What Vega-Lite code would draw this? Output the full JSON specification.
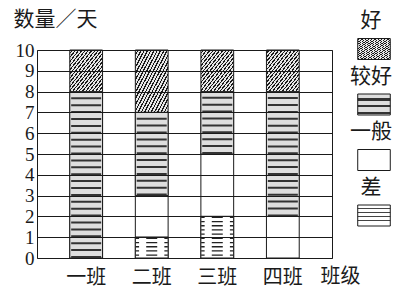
{
  "$schema": "https://vega.github.io/schema/vega-lite/v6.json",
  "width": 295,
  "height": 208,
  "autosize": {"type": "none"},
  "padding": {"left": 37, "top": 50, "right": 75, "bottom": 30},
  "background": "white",
  "config": {"view": {"stroke": "#1a1a1a", "strokeWidth": 1}},
  "params": [
    {"name": "hatch", "value": {"gradient": "linear", "x1": 0, "y1": 0, "x2": 1, "y2": 1, "stops": [
      {"offset": 0, "color": "#e6e6e6"}, {"offset": 0.03, "color": "#e6e6e6"}, {"offset": 0.03, "color": "#1a1a1a"}, {"offset": 0.05, "color": "#1a1a1a"},
      {"offset": 0.05, "color": "#e6e6e6"}, {"offset": 0.08, "color": "#e6e6e6"}, {"offset": 0.08, "color": "#1a1a1a"}, {"offset": 0.1, "color": "#1a1a1a"},
      {"offset": 0.1, "color": "#e6e6e6"}, {"offset": 0.13, "color": "#e6e6e6"}, {"offset": 0.13, "color": "#1a1a1a"}, {"offset": 0.15, "color": "#1a1a1a"},
      {"offset": 0.15, "color": "#e6e6e6"}, {"offset": 0.18, "color": "#e6e6e6"}, {"offset": 0.18, "color": "#1a1a1a"}, {"offset": 0.2, "color": "#1a1a1a"},
      {"offset": 0.2, "color": "#e6e6e6"}, {"offset": 0.23, "color": "#e6e6e6"}, {"offset": 0.23, "color": "#1a1a1a"}, {"offset": 0.25, "color": "#1a1a1a"},
      {"offset": 0.25, "color": "#e6e6e6"}, {"offset": 0.28, "color": "#e6e6e6"}, {"offset": 0.28, "color": "#1a1a1a"}, {"offset": 0.3, "color": "#1a1a1a"},
      {"offset": 0.3, "color": "#e6e6e6"}, {"offset": 0.33, "color": "#e6e6e6"}, {"offset": 0.33, "color": "#1a1a1a"}, {"offset": 0.35, "color": "#1a1a1a"},
      {"offset": 0.35, "color": "#e6e6e6"}, {"offset": 0.38, "color": "#e6e6e6"}, {"offset": 0.38, "color": "#1a1a1a"}, {"offset": 0.4, "color": "#1a1a1a"},
      {"offset": 0.4, "color": "#e6e6e6"}, {"offset": 0.43, "color": "#e6e6e6"}, {"offset": 0.43, "color": "#1a1a1a"}, {"offset": 0.45, "color": "#1a1a1a"},
      {"offset": 0.45, "color": "#e6e6e6"}, {"offset": 0.48, "color": "#e6e6e6"}, {"offset": 0.48, "color": "#1a1a1a"}, {"offset": 0.5, "color": "#1a1a1a"},
      {"offset": 0.5, "color": "#e6e6e6"}, {"offset": 0.53, "color": "#e6e6e6"}, {"offset": 0.53, "color": "#1a1a1a"}, {"offset": 0.55, "color": "#1a1a1a"},
      {"offset": 0.55, "color": "#e6e6e6"}, {"offset": 0.58, "color": "#e6e6e6"}, {"offset": 0.58, "color": "#1a1a1a"}, {"offset": 0.6, "color": "#1a1a1a"},
      {"offset": 0.6, "color": "#e6e6e6"}, {"offset": 0.63, "color": "#e6e6e6"}, {"offset": 0.63, "color": "#1a1a1a"}, {"offset": 0.65, "color": "#1a1a1a"},
      {"offset": 0.65, "color": "#e6e6e6"}, {"offset": 0.68, "color": "#e6e6e6"}, {"offset": 0.68, "color": "#1a1a1a"}, {"offset": 0.7, "color": "#1a1a1a"},
      {"offset": 0.7, "color": "#e6e6e6"}, {"offset": 0.73, "color": "#e6e6e6"}, {"offset": 0.73, "color": "#1a1a1a"}, {"offset": 0.75, "color": "#1a1a1a"},
      {"offset": 0.75, "color": "#e6e6e6"}, {"offset": 0.78, "color": "#e6e6e6"}, {"offset": 0.78, "color": "#1a1a1a"}, {"offset": 0.8, "color": "#1a1a1a"},
      {"offset": 0.8, "color": "#e6e6e6"}, {"offset": 0.83, "color": "#e6e6e6"}, {"offset": 0.83, "color": "#1a1a1a"}, {"offset": 0.85, "color": "#1a1a1a"},
      {"offset": 0.85, "color": "#e6e6e6"}, {"offset": 0.88, "color": "#e6e6e6"}, {"offset": 0.88, "color": "#1a1a1a"}, {"offset": 0.9, "color": "#1a1a1a"},
      {"offset": 0.9, "color": "#e6e6e6"}, {"offset": 0.93, "color": "#e6e6e6"}, {"offset": 0.93, "color": "#1a1a1a"}, {"offset": 0.95, "color": "#1a1a1a"},
      {"offset": 0.95, "color": "#e6e6e6"}, {"offset": 0.98, "color": "#e6e6e6"}, {"offset": 0.98, "color": "#1a1a1a"}, {"offset": 1, "color": "#1a1a1a"}
    ]}},
    {"name": "zigL", "value": {"gradient": "linear", "x1": 0, "y1": 0, "x2": 0, "y2": 1, "stops": [
      {"offset": 0, "color": "#dedede"}, {"offset": 0.18, "color": "#dedede"}, {"offset": 0.18, "color": "#333333"}, {"offset": 0.31, "color": "#333333"},
      {"offset": 0.31, "color": "#dedede"}, {"offset": 0.51, "color": "#dedede"}, {"offset": 0.51, "color": "#333333"}, {"offset": 0.64, "color": "#333333"},
      {"offset": 0.64, "color": "#dedede"}, {"offset": 0.84, "color": "#dedede"}, {"offset": 0.84, "color": "#333333"}, {"offset": 0.97, "color": "#333333"},
      {"offset": 0.97, "color": "#dedede"}, {"offset": 1, "color": "#dedede"}
    ]}},
    {"name": "dashL", "value": {"gradient": "linear", "x1": 0, "y1": 0, "x2": 0, "y2": 1, "stops": [
      {"offset": 0, "color": "#ffffff"}, {"offset": 0.12, "color": "#ffffff"}, {"offset": 0.12, "color": "#444444"}, {"offset": 0.18, "color": "#444444"},
      {"offset": 0.18, "color": "#ffffff"}, {"offset": 0.32, "color": "#ffffff"}, {"offset": 0.32, "color": "#444444"}, {"offset": 0.38, "color": "#444444"},
      {"offset": 0.38, "color": "#ffffff"}, {"offset": 0.52, "color": "#ffffff"}, {"offset": 0.52, "color": "#444444"}, {"offset": 0.58, "color": "#444444"},
      {"offset": 0.58, "color": "#ffffff"}, {"offset": 0.72, "color": "#ffffff"}, {"offset": 0.72, "color": "#444444"}, {"offset": 0.78, "color": "#444444"},
      {"offset": 0.78, "color": "#ffffff"}, {"offset": 1, "color": "#ffffff"}
    ]}}
  ],
  "data": {
    "values": [
      {"cls": "一班", "level": "较好", "days": 8},
      {"cls": "一班", "level": "好", "days": 2},
      {"cls": "二班", "level": "差", "days": 1},
      {"cls": "二班", "level": "一般", "days": 2},
      {"cls": "二班", "level": "较好", "days": 4},
      {"cls": "二班", "level": "好", "days": 3},
      {"cls": "三班", "level": "差", "days": 2},
      {"cls": "三班", "level": "一般", "days": 3},
      {"cls": "三班", "level": "较好", "days": 3},
      {"cls": "三班", "level": "好", "days": 2},
      {"cls": "四班", "level": "一般", "days": 2},
      {"cls": "四班", "level": "较好", "days": 6},
      {"cls": "四班", "level": "好", "days": 2}
    ]
  },
  "transform": [
    {"calculate": "indexof(['差','一般','较好','好'], datum.level)", "as": "ord"},
    {"stack": "days", "groupby": ["cls"], "sort": [{"field": "ord", "order": "ascending"}], "as": ["lo", "hi"]}
  ],
  "encoding": {
    "x": {
      "field": "cls", "type": "nominal",
      "scale": {"type": "band", "domain": ["一班", "二班", "三班", "四班"], "paddingInner": 0.5, "paddingOuter": 0.5},
      "axis": {
        "title": "班级", "titleX": 303, "titleY": 18, "titleAlign": "center", "titleBaseline": "middle",
        "titleFont": "Noto Sans CJK SC", "titleFontSize": 20, "titleFontWeight": "normal", "titleColor": "#1a1a1a",
        "labelFont": "Noto Sans CJK SC", "labelFontSize": 20, "labelColor": "#1a1a1a", "labelAngle": 0,
        "labelPadding": 9, "labelBaseline": "top", "ticks": false, "domain": false, "grid": false
      }
    },
    "y": {
      "field": "lo", "type": "quantitative",
      "scale": {"domain": [0, 10], "nice": false},
      "axis": {
        "title": "数量／天", "titleAngle": 0, "titleX": -24, "titleY": -31, "titleAlign": "left", "titleBaseline": "middle",
        "titleFont": "Noto Sans CJK SC", "titleFontSize": 21, "titleFontWeight": "normal", "titleColor": "#1a1a1a",
        "values": [0, 1, 2, 3, 4, 5, 6, 7, 8, 9, 10],
        "labelFont": "Liberation Serif", "labelFontSize": 19, "labelColor": "#1a1a1a", "labelPadding": 3,
        "labelOverlap": false, "labelFlush": false,
        "ticks": false, "domain": false, "grid": true, "gridColor": "#1a1a1a", "gridWidth": 1, "gridOpacity": 1,
        "zindex": 1
      }
    },
    "y2": {"field": "hi"}
  },
  "layer": [
    {
      "mark": {"type": "bar", "stroke": "#1a1a1a", "strokeWidth": 1},
      "encoding": {
        "fill": {
          "field": "level", "type": "nominal",
          "scale": {"domain": ["好", "较好", "一般", "差"], "range": [{"expr": "hatch"}, {"expr": "zigL"}, "#ffffff", {"expr": "dashL"}]},
          "legend": {
            "orient": "none", "legendX": 326, "legendY": -12, "title": null, "padding": 0,
            "symbolType": "M-1.55,-1L1.55,-1L1.55,1L-1.55,1Z", "symbolSize": 441,
            "symbolStrokeColor": "#1a1a1a", "symbolStrokeWidth": 1, "symbolOpacity": 1,
            "labelFont": "Noto Sans CJK SC", "labelFontSize": 21, "labelColor": "#1a1a1a",
            "labelOffset": 0, "labelAlign": "center", "rowPadding": 3.5,
            "encode": {
              "labels": {"update": {"dx": {"value": -14}, "dy": {"value": -28}}}
            }
          }
        }
      }
    },
    {
      "transform": [{"filter": "datum.level === '较好'"}],
      "mark": {"type": "bar", "fill": "#dedede", "stroke": "#1a1a1a", "strokeWidth": 1}
    },
    {
      "transform": [{"filter": "datum.level === '较好'"}],
      "mark": {"type": "rule", "color": "#333333", "strokeWidth": 30, "strokeDash": [2, 4.9], "strokeCap": "butt"},
      "encoding": {}
    },
    {
      "transform": [{"filter": "datum.level === '差'"}],
      "mark": {"type": "bar", "fill": "#ffffff", "stroke": "#1a1a1a", "strokeWidth": 1}
    },
    {
      "transform": [{"filter": "datum.level === '差'"}],
      "mark": {"type": "rule", "color": "#222222", "strokeWidth": 11, "strokeDash": [1.3, 2.9], "strokeDashOffset": 2, "strokeCap": "butt"},
      "encoding": {}
    },
    {
      "transform": [{"filter": "datum.level === '差'"}],
      "mark": {"type": "rule", "color": "#222222", "strokeWidth": 3.5, "xOffset": 2, "strokeDash": [1.3, 2.9], "strokeDashOffset": 2, "strokeCap": "butt"},
      "encoding": {"x": {"field": "cls", "type": "nominal", "bandPosition": 0}}
    },
    {
      "transform": [{"filter": "datum.level === '差'"}],
      "mark": {"type": "rule", "color": "#222222", "strokeWidth": 3.5, "xOffset": -2, "strokeDash": [1.3, 2.9], "strokeDashOffset": 2, "strokeCap": "butt"},
      "encoding": {"x": {"field": "cls", "type": "nominal", "bandPosition": 1}}
    }
  ]
}
